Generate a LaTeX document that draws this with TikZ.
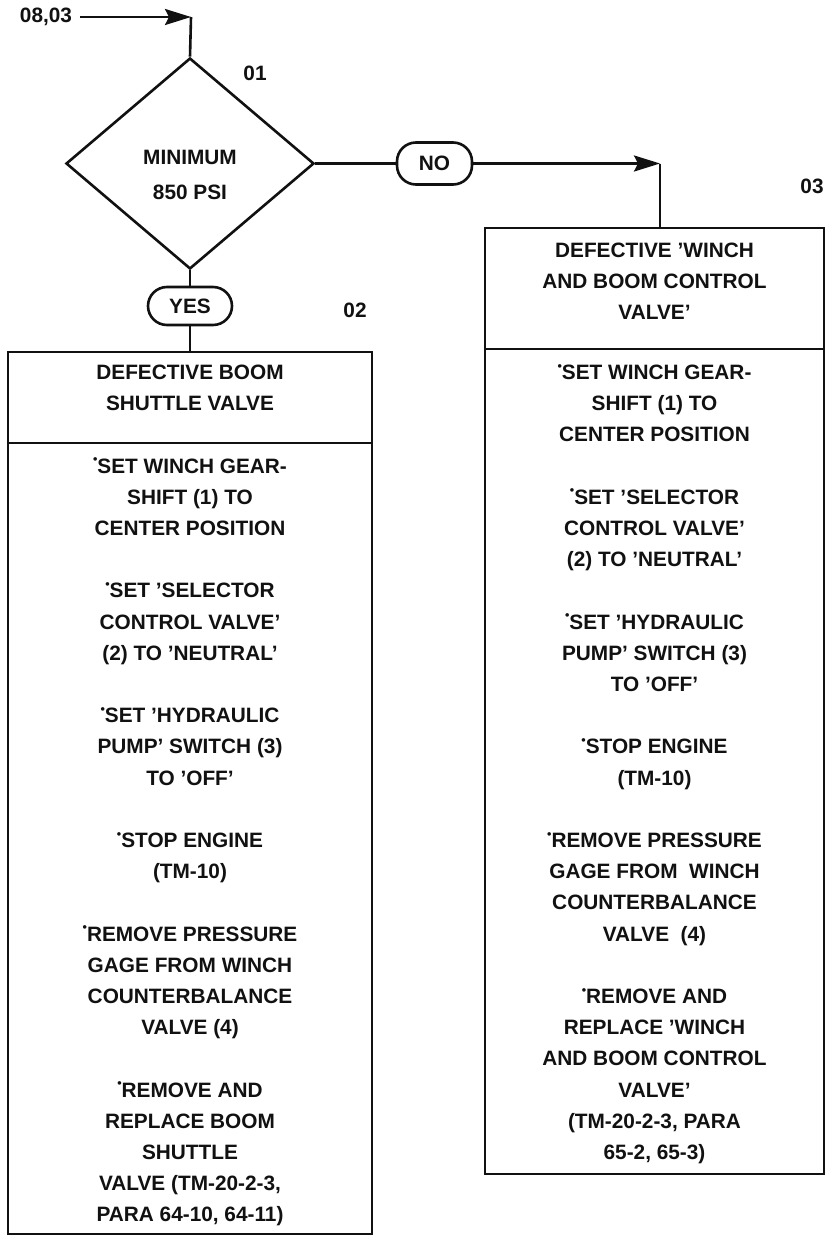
\documentclass[tikz,border=0pt]{standalone}
\usepackage{fontspec}
\setmainfont{Liberation Sans}
\usetikzlibrary{shapes.geometric,arrows.meta}
\definecolor{ink}{HTML}{111111}
\newcommand\dotmark{\raisebox{0.45em}{\scalebox{0.6}{\textbullet}}}
\tikzset{
  every node/.style={font=\fontsize{10.4}{15.6}\selectfont\bfseries,text=ink},
  decision/.style={draw=ink,diamond,inner sep=0pt,minimum width=124pt,minimum height=105.5pt},
  answer/.style={draw=ink,rectangle,rounded corners=9.5pt,inner sep=0pt,minimum width=42pt,minimum height=19pt},
  actbox/.style={draw=ink,rectangle,inner sep=0pt},
  flowarrow/.style={-{Stealth[length=13pt,width=8pt,inset=2pt]}}
}

\begin{document}
\begin{tikzpicture}[x=0.5pt,y=-0.5pt,line width=1.3pt,draw=ink]
\fill[white] (0,0) rectangle (828,1236);
\useasboundingbox (0,0) rectangle (828,1236);
% decision and answers
\node[decision] (dia) at (190,163.5) {};
\node[align=center] (diatext) at (190,175) {MINIMUM\\[1.8pt]850 PSI};
\node[answer] (yes) at (190,306) {YES};
\node[answer,minimum width=37.5pt,minimum height=21pt] (no) at (434.5,163.5) {NO};
% action boxes
\node[actbox,minimum width=182pt,minimum height=441pt] (boxL) at (190,793) {};
\node[actbox,minimum width=169.5pt,minimum height=473pt] (boxR) at (654.5,701) {};
\coordinate (hdL) at (0,443);
\coordinate (hdR) at (0,349);
\draw (boxL.west |- hdL) -- (boxL.east |- hdL);
\draw (boxR.west |- hdR) -- (boxR.east |- hdR);
\node[align=center] (hdLtext) at (190,388) {DEFECTIVE BOOM\\SHUTTLE VALVE};
\node[align=center] (hdRtext) at (654.5,281.5) {DEFECTIVE 'WINCH\\AND BOOM CONTROL\\VALVE'};
\node[align=center] (bodyL) at (190,842) {\dotmark SET WINCH GEAR-\\SHIFT (1) TO\\CENTER POSITION\\[15.6pt]
  \dotmark SET 'SELECTOR\\CONTROL VALVE'\\(2) TO 'NEUTRAL'\\[15.6pt]
  \dotmark SET 'HYDRAULIC\\PUMP' SWITCH (3)\\TO 'OFF'\\[15.6pt]
  \dotmark STOP ENGINE\\(TM-10)\\[15.6pt]
  \dotmark REMOVE PRESSURE\\GAGE FROM WINCH\\COUNTERBALANCE\\VALVE (4)\\[15.6pt]
  \dotmark REMOVE AND\\REPLACE BOOM\\SHUTTLE\\VALVE (TM-20-2-3,\\PARA 64-10, 64-11)};
\node[align=center] (bodyR) at (654.5,764) {\dotmark SET WINCH GEAR-\\SHIFT (1) TO\\CENTER POSITION\\[15.6pt]
  \dotmark SET 'SELECTOR\\CONTROL VALVE'\\(2) TO 'NEUTRAL'\\[15.6pt]
  \dotmark SET 'HYDRAULIC\\PUMP' SWITCH (3)\\TO 'OFF'\\[15.6pt]
  \dotmark STOP ENGINE\\(TM-10)\\[15.6pt]
  \dotmark REMOVE PRESSURE\\GAGE FROM\ \ WINCH\\COUNTERBALANCE\\VALVE\ \ (4)\\[15.6pt]
  \dotmark REMOVE AND\\REPLACE 'WINCH\\AND BOOM CONTROL\\VALVE'\\(TM-20-2-3, PARA\\65-2, 65-3)};
% step numbers
\foreach \n/\x/\y in {01/255/73,02/355/310,03/812/186}
  \node (step\n) at (\x,\y) {\n};
% connectors
\node (src) at (46,17) {08,03};
\coordinate (inturn) at (191,17);
\coordinate (noturn) at (660,163.5);
\draw[flowarrow] (src.east) -- (inturn);
\draw (inturn) -- (dia.north);
\draw (dia.south) -- (yes.north);
\draw (yes.south) -- (boxL.north);
\draw (dia.east) -- (no.west);
\draw[flowarrow] (no.east) -- (noturn);
\draw (noturn) -- (noturn |- boxR.north);
\end{tikzpicture}
\end{document}
